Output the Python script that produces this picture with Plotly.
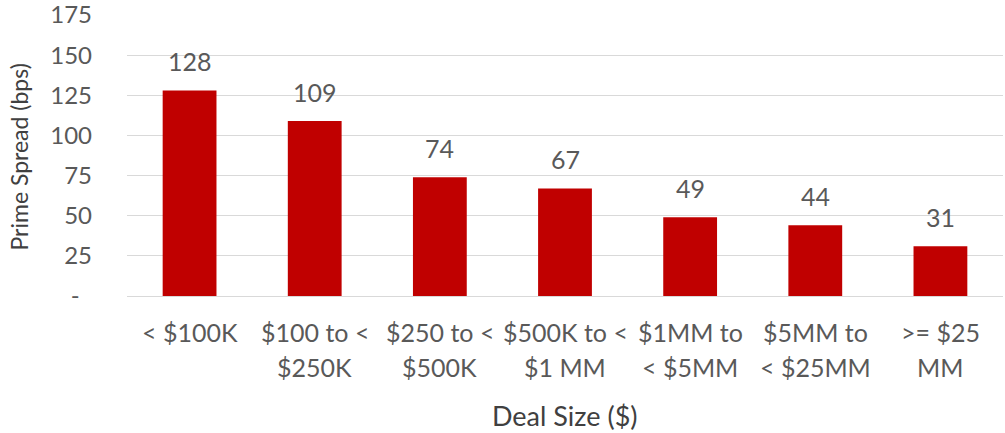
import plotly.graph_objects as go

# Deal size buckets (two display lines each) and prime spread values in bps
categories = ["< $100K", "$100 to < $250K", "$250 to < $500K", "$500K to < $1 MM",
              "$1MM to < $5MM", "$5MM to < $25MM", ">= $25 MM"]
label_line1 = ["< $100K", "$100 to <", "$250 to <", "$500K to <", "$1MM to", "$5MM to", ">= $25"]
label_line2 = ["", "$250K", "$500K", "$1 MM", "< $5MM", "< $25MM", "MM"]
spread_bps = [128, 109, 74, 67, 49, 44, 31]

y_tickvals = [0, 25, 50, 75, 100, 125, 150, 175]
y_ticktext = ["-  ", "25", "50", "75", "100", "125", "150", "175"]

BAR = "#C00000"
TXT = "#595959"
FONT = "Lato, 'Open Sans', sans-serif"

fig = go.Figure()
fig.add_trace(go.Bar(
    x=categories, y=spread_bps, marker=dict(color=BAR, line=dict(width=0)),
    width=0.43, hoverinfo="skip",
))

annotations = []
# value labels above the bars
for c, v in zip(categories, spread_bps):
    annotations.append(dict(x=c, y=v, xref="x", yref="y", text=str(v), showarrow=False,
                            yanchor="middle", yshift=29,
                            font=dict(family=FONT, size=25, color=TXT)))
# two-line category labels under the axis
for c, l1, l2 in zip(categories, label_line1, label_line2):
    annotations.append(dict(x=c, y=0, xref="x", yref="paper", text=l1, showarrow=False,
                            yanchor="middle", yshift=-36,
                            font=dict(family=FONT, size=25, color=TXT)))
    if l2:
        annotations.append(dict(x=c, y=0, xref="x", yref="paper", text=l2, showarrow=False,
                                yanchor="middle", yshift=-71,
                                font=dict(family=FONT, size=25, color=TXT)))
# axis titles
annotations.append(dict(x=0.5, y=0, xref="paper", yref="paper", text="Deal Size ($)",
                        showarrow=False, yanchor="middle", yshift=-119,
                        font=dict(family=FONT, size=27, color="#404040")))
annotations.append(dict(x=0, y=0.5, xref="paper", yref="paper", text="Prime Spread (bps)",
                        showarrow=False, textangle=-90, xanchor="center", yanchor="middle",
                        xshift=-109, yshift=-2,
                        font=dict(family=FONT, size=23, color="#404040")))

fig.update_layout(
    width=1005, height=433,
    margin=dict(l=127, r=2, t=15, b=137, autoexpand=False),
    paper_bgcolor="white", plot_bgcolor="white",
    showlegend=False,
    bargap=0.57,
    annotations=annotations,
    xaxis=dict(showticklabels=False, showgrid=False, zeroline=False, showline=False,
               ticks="", range=[-0.5, 6.5], automargin=False),
    yaxis=dict(range=[0, 175], tickvals=y_tickvals, ticktext=y_ticktext,
               showgrid=True, gridcolor="#D9D9D9", gridwidth=1,
               zeroline=True, zerolinecolor="#D9D9D9", zerolinewidth=1,
               showline=False, ticks="", ticklabelstandoff=34,
               ticklabeloverflow="allow", automargin=False,
               tickfont=dict(family=FONT, size=24, color=TXT)),
)

fig.write_html("out.html")
